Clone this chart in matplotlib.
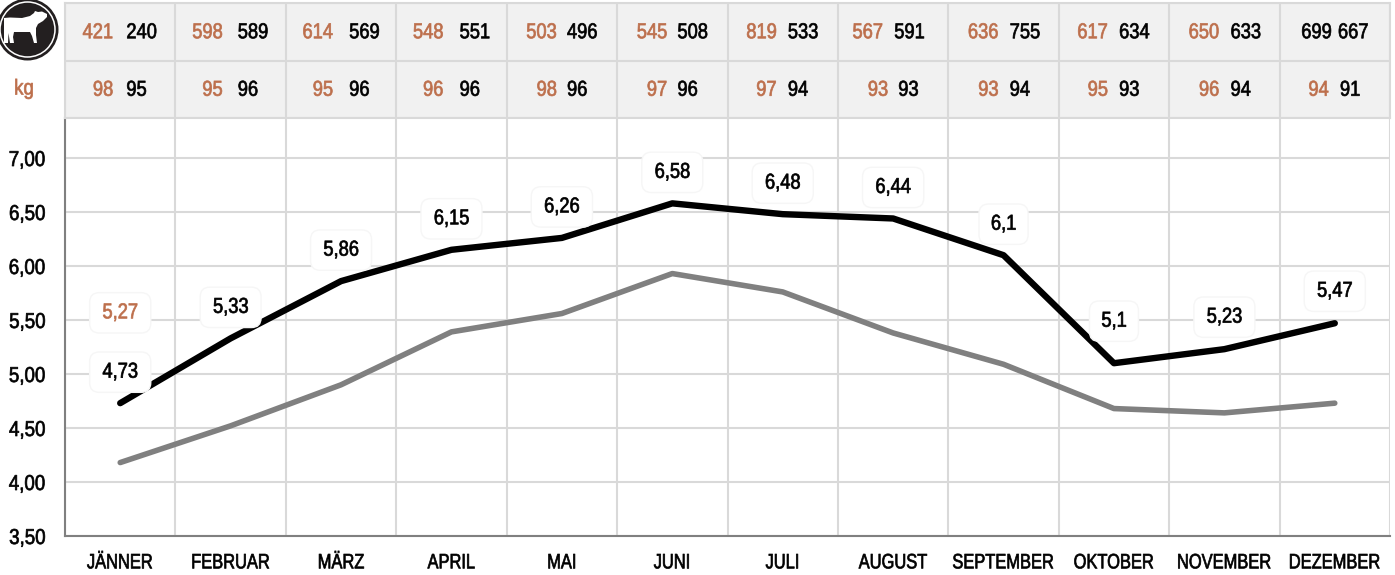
#!/usr/bin/env python3
import matplotlib
matplotlib.use("Agg")
import matplotlib.pyplot as plt
from matplotlib.patches import Circle, Polygon
from matplotlib.patheffects import AbstractPathEffect
from matplotlib.transforms import Affine2D

plt.rcParams["font.family"] = ["Liberation Sans", "DejaVu Sans"]

months = ["JÄNNER", "FEBRUAR", "MÄRZ", "APRIL", "MAI", "JUNI", "JULI", "AUGUST",
          "SEPTEMBER", "OKTOBER", "NOVEMBER", "DEZEMBER"]
black_line = [4.73, 5.33, 5.86, 6.15, 6.26, 6.58, 6.48, 6.44, 6.1, 5.1, 5.23, 5.47]
grey_line = [4.18, 4.52, 4.90, 5.39, 5.56, 5.93, 5.76, 5.38, 5.09, 4.68, 4.64, 4.73]
black_labels = ["4,73", "5,33", "5,86", "6,15", "6,26", "6,58", "6,48", "6,44", "6,1", "5,1", "5,23", "5,47"]
orange_value = 5.27
orange_label = "5,27"

top_left = ["421", "598", "614", "548", "503", "545", "819", "567", "636", "617", "650", "699"]
top_right = ["240", "589", "569", "551", "496", "508", "533", "591", "755", "634", "633", "667"]
kg_left = ["98", "95", "95", "96", "98", "97", "97", "93", "93", "95", "96", "94"]
kg_right = ["95", "96", "96", "96", "96", "96", "94", "93", "94", "93", "94", "91"]
yticks = [3.5, 4.0, 4.5, 5.0, 5.5, 6.0, 6.5, 7.0]

ORANGE = "#bd6f4c"
GRID = "#d9d9d9"
W, H = 1395, 575

# pixel offsets of the two numbers from the centre of each cell
top_left_dx = [-7, -8, -8, -8, -5, -5, -6, -10, -5, -6, -5, -3]
top_right_dx = [6, 7, 8, 8, 5, 5, 5, 1, 6, 5, 6, 3]
kg_left_dx = [-7, -8, -8, -8, -5, -5, -6, -5, -5, -6, -5, -6]
kg_right_dx = [6, 7, 8, 8, 5, 5, 5, 5, 6, 5, 6, 5]
label_dy = [31, 31, 31, 31, 31, 31, 31, 31, 31, 42, 32, 32]


class Narrow(AbstractPathEffect):
    # no condensed font here, so squeeze the glyphs around their anchor
    def __init__(self, scale, anchor="center", stroke=0.5):
        super().__init__()
        self.scale = scale
        self.anchor = anchor
        self.stroke = stroke

    def draw_path(self, renderer, gc, tpath, affine, rgbFace=None):
        box = tpath.get_extents(affine)
        cx = {"left": box.x0, "center": (box.x0 + box.x1) / 2, "right": box.x1}[self.anchor]
        squeezed = affine + Affine2D().translate(-cx, 0).scale(self.scale, 1).translate(cx, 0)
        gc0 = renderer.new_gc()
        gc0.copy_properties(gc)
        gc0.set_linewidth(self.stroke)
        gc0.set_foreground(rgbFace)
        renderer.draw_path(gc0, tpath, squeezed, rgbFace)
        gc0.restore()


def px_axes(fig, x0, y0, x1, y1):
    return fig.add_axes([x0 / W, 1 - y1 / H, (x1 - x0) / W, (y1 - y0) / H])


def main():
    fig = plt.figure(figsize=(W / 100, H / 100), dpi=100)
    xs = list(range(len(months)))

    ax = px_axes(fig, 65, 118, 1390, 536)
    ax.set_xlim(-0.5, 11.5)
    ax.set_ylim(3.5, 3.5 + 418 / 108)
    ax.set_xticks(xs, months)
    ax.set_yticks(yticks, [f"{v:.2f}".replace(".", ",") for v in yticks])
    ax.set_xticks([x - 0.5 for x in xs] + [11.5], minor=True)
    ax.tick_params(axis="both", which="both", length=0)
    ax.tick_params(axis="x", labelsize=15, pad=12.5)
    ax.tick_params(axis="y", labelsize=15.5, pad=14)
    for t in ax.get_xticklabels():
        t.set_path_effects([Narrow(0.79)])
    for t in ax.get_yticklabels():
        t.set_path_effects([Narrow(0.87, "right")])
    ax.grid(True, axis="y", color=GRID, lw=1.5)
    ax.grid(True, axis="x", which="minor", color=GRID, lw=1.5)
    ax.grid(False, axis="x", which="major")
    ax.set_axisbelow(True)
    for side in ["top", "right"]:
        ax.spines[side].set_visible(False)
    for side in ["left", "bottom"]:
        ax.spines[side].set_color("#808080")
        ax.spines[side].set_linewidth(1.5)

    ax.plot(xs, grey_line, color="#808080", lw=4, solid_capstyle="round", solid_joinstyle="round")
    ax.plot(xs, black_line, color="black", lw=4.6, solid_capstyle="round", solid_joinstyle="round")

    box = dict(boxstyle="round,pad=0.45", fc="white", ec="#f6f6f6", lw=1)
    for x, y, label, dy in zip(xs, black_line, black_labels, label_dy):
        ax.annotate(label, (x, y), xytext=(0, dy), textcoords="offset pixels", ha="center", va="center",
                    fontsize=15.5, color="black", bbox=box, zorder=5, path_effects=[Narrow(0.85)])
    ax.annotate(orange_label, (0, orange_value), xytext=(0, 32), textcoords="offset pixels", ha="center",
                va="center", fontsize=15.5, color=ORANGE, bbox=box, zorder=5, path_effects=[Narrow(0.85)])

    # table above the plot
    tab = px_axes(fig, 65, 3, 1390, 118)
    tab.set_xlim(-0.5, 11.5)
    tab.set_ylim(0, 2)
    tab.set_facecolor("#f1f1f1")
    tab.set_xticks([x - 0.5 for x in xs] + [11.5])
    tab.set_yticks([0, 1, 2])
    tab.set_xticklabels([])
    tab.set_yticklabels([])
    tab.tick_params(length=0)
    tab.grid(True, color=GRID, lw=1.5)
    for spine in tab.spines.values():
        spine.set_color(GRID)
        spine.set_linewidth(1.5)

    rows = [(1.5, top_left, top_right, top_left_dx, top_right_dx),
            (0.5, kg_left, kg_right, kg_left_dx, kg_right_dx)]
    for y, lefts, rights, left_dx, right_dx in rows:
        for i in xs:
            # last top cell is printed all black in the original
            left_color = "black" if lefts[i] == "699" else ORANGE
            tab.annotate(lefts[i], (i, y), xytext=(left_dx[i], -1), textcoords="offset pixels",
                         ha="right", va="center", fontsize=15.5, color=left_color,
                         path_effects=[Narrow(0.85, "right")])
            tab.annotate(rights[i], (i, y), xytext=(right_dx[i], -1), textcoords="offset pixels",
                         ha="left", va="center", fontsize=15.5, color="black",
                         path_effects=[Narrow(0.85, "left")])

    fig.text(24 / W, 1 - 89 / H, "kg", ha="center", va="center", fontsize=15.5, color=ORANGE,
             path_effects=[Narrow(0.87)])

    # cow badge
    icon = px_axes(fig, 0, 0, 64, 64)
    icon.set_xlim(0, 64)
    icon.set_ylim(64, 0)
    icon.axis("off")
    icon.add_patch(Circle((27.5, 29.5), 31, fc="#231f20", ec="none"))
    icon.add_patch(Circle((27.5, 29.5), 27.5, fc="none", ec="white", lw=1.1))
    cow = [(4, 18), (10, 17.5), (22, 18), (30, 16), (34, 13), (35, 11), (38, 12), (42, 11.5), (47, 14),
           (47, 17), (43, 21), (38, 24), (36, 28), (36, 35), (37, 43), (34, 43), (32, 36), (30, 32),
           (18, 32), (14, 32), (13, 37), (14, 43), (10, 43), (8.5, 33), (8, 43), (4, 43), (4, 30)]
    icon.add_patch(Polygon(cow, closed=True, fc="white", ec="none"))

    fig.savefig("out.png", dpi=100)


if __name__ == "__main__":
    main()
